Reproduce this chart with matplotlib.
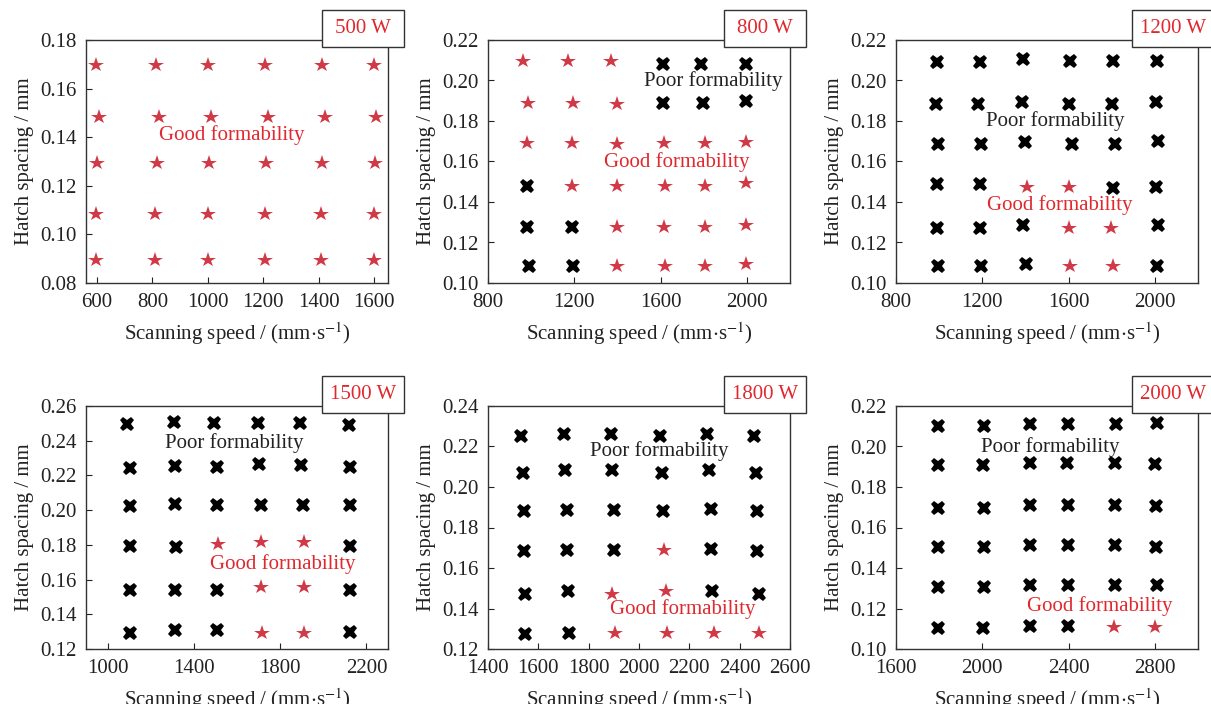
import matplotlib
matplotlib.use("Agg")
import matplotlib.pyplot as plt
from matplotlib.patches import Rectangle

plt.rcParams['font.family'] = ['Liberation Serif', 'DejaVu Serif']
plt.rcParams['mathtext.fontset'] = 'stix'

RED_STAR = '#d03a46'
RED_TEXT = '#e0282e'
DARK = '#222222'

# 500 W : all good
p500_speed = [596, 813, 1002, 1206, 1410, 1600,
              606, 822, 1012, 1217, 1421, 1608,
              598, 815, 1004, 1209, 1413, 1602,
              596, 810, 1001, 1206, 1409, 1599,
              596, 810, 1001, 1206, 1409, 1599]
p500_spacing = [0.1697] * 6 + [0.1484] * 6 + [0.1293] * 6 + [0.1084] * 6 + [0.0895] * 6
p500_good = [1] * 30

# 800 W
p800_speed = [961, 1172, 1372, 1610, 1788, 1995,
              985, 1195, 1400, 1610, 1795, 1995,
              980, 1188, 1396, 1616, 1804, 1995,
              980, 1191, 1396, 1619, 1808, 1998,
              980, 1188, 1396, 1616, 1804, 1995,
              988, 1195, 1396, 1619, 1808, 1998]
p800_spacing = [0.2096, 0.2096, 0.2096, 0.2080, 0.2080, 0.2080,
                0.1887, 0.1887, 0.1882, 0.1887, 0.1887, 0.1900,
                0.1690, 0.1690, 0.1685, 0.1690, 0.1690, 0.1697,
                0.1479, 0.1479, 0.1479, 0.1479, 0.1479, 0.1494,
                0.1278, 0.1278, 0.1278, 0.1278, 0.1278, 0.1286,
                0.1084, 0.1084, 0.1084, 0.1084, 0.1084, 0.1094]
p800_good = [1, 1, 1, 0, 0, 0,
             1, 1, 1, 0, 0, 0,
             1, 1, 1, 1, 1, 1,
             0, 1, 1, 1, 1, 1,
             0, 0, 1, 1, 1, 1,
             0, 0, 1, 1, 1, 1]

# 1200 W
p1200_speed = [990, 1189, 1391, 1608, 1806, 2010,
               987, 1181, 1386, 1604, 1801, 2003,
               997, 1195, 1399, 1615, 1814, 2016,
               990, 1189, 1409, 1604, 1806, 2003,
               990, 1189, 1391, 1601, 1795, 2013,
               993, 1192, 1402, 1608, 1806, 2010]
p1200_spacing = [0.2093, 0.2093, 0.2104, 0.2098, 0.2098, 0.2098,
                 0.1882, 0.1882, 0.1893, 0.1882, 0.1882, 0.1894,
                 0.1686, 0.1686, 0.1696, 0.1686, 0.1686, 0.1699,
                 0.1487, 0.1487, 0.1475, 0.1475, 0.1467, 0.1475,
                 0.1273, 0.1273, 0.1284, 0.1273, 0.1273, 0.1284,
                 0.1085, 0.1085, 0.1096, 0.1085, 0.1085, 0.1085]
p1200_good = [0, 0, 0, 0, 0, 0,
              0, 0, 0, 0, 0, 0,
              0, 0, 0, 0, 0, 0,
              0, 0, 1, 1, 0, 0,
              0, 0, 0, 1, 1, 0,
              0, 0, 0, 1, 1, 0]

# 1500 W
p1500_speed = [1092, 1306, 1495, 1699, 1894, 2117,
               1103, 1313, 1507, 1702, 1897, 2125,
               1103, 1313, 1507, 1710, 1906, 2125,
               1103, 1318, 1513, 1713, 1909, 2125,
               1103, 1313, 1507, 1713, 1909, 2125,
               1103, 1313, 1507, 1717, 1909, 2125]
p1500_spacing = [0.2496, 0.2510, 0.2504, 0.2504, 0.2500, 0.2490,
                 0.2245, 0.2253, 0.2249, 0.2264, 0.2258, 0.2249,
                 0.2021, 0.2036, 0.2027, 0.2027, 0.2027, 0.2027,
                 0.1792, 0.1788, 0.1804, 0.1817, 0.1817, 0.1796,
                 0.1540, 0.1540, 0.1540, 0.1555, 0.1555, 0.1540,
                 0.1295, 0.1312, 0.1307, 0.1291, 0.1291, 0.1299]
p1500_good = [0, 0, 0, 0, 0, 0,
              0, 0, 0, 0, 0, 0,
              0, 0, 0, 0, 0, 0,
              0, 0, 1, 1, 1, 0,
              0, 0, 0, 1, 1, 0,
              0, 0, 0, 1, 1, 0]

# 1800 W
p1800_speed = [1532, 1701, 1889, 2085, 2271, 2457,
               1539, 1705, 1893, 2092, 2277, 2463,
               1544, 1714, 1902, 2096, 2287, 2467,
               1544, 1714, 1900, 2099, 2287, 2470,
               1548, 1717, 1893, 2108, 2291, 2477,
               1548, 1721, 1904, 2112, 2297, 2477]
p1800_spacing = [0.2251, 0.2260, 0.2260, 0.2251, 0.2264, 0.2251,
                 0.2071, 0.2082, 0.2082, 0.2071, 0.2082, 0.2071,
                 0.1881, 0.1888, 0.1888, 0.1881, 0.1893, 0.1881,
                 0.1683, 0.1691, 0.1689, 0.1691, 0.1694, 0.1683,
                 0.1474, 0.1485, 0.1471, 0.1485, 0.1488, 0.1474,
                 0.1273, 0.1281, 0.1281, 0.1281, 0.1281, 0.1277]
p1800_good = [0, 0, 0, 0, 0, 0,
              0, 0, 0, 0, 0, 0,
              0, 0, 0, 0, 0, 0,
              0, 0, 0, 1, 0, 0,
              0, 0, 1, 1, 0, 0,
              0, 0, 1, 1, 1, 1]

# 2000 W
p2000_speed = [1797, 2006, 2223, 2397, 2619, 2809,
               1794, 2003, 2220, 2394, 2614, 2800,
               1797, 2006, 2223, 2397, 2614, 2805,
               1797, 2006, 2223, 2397, 2614, 2805,
               1797, 2006, 2223, 2397, 2614, 2809,
               1797, 2003, 2223, 2397, 2611, 2800]
p2000_spacing = [0.2101, 0.2101, 0.2110, 0.2110, 0.2110, 0.2117,
                 0.1907, 0.1907, 0.1919, 0.1919, 0.1919, 0.1912,
                 0.1698, 0.1698, 0.1710, 0.1710, 0.1710, 0.1705,
                 0.1502, 0.1502, 0.1514, 0.1514, 0.1514, 0.1506,
                 0.1304, 0.1304, 0.1316, 0.1316, 0.1316, 0.1316,
                 0.1103, 0.1103, 0.1116, 0.1116, 0.1108, 0.1111]
p2000_good = [0, 0, 0, 0, 0, 0,
              0, 0, 0, 0, 0, 0,
              0, 0, 0, 0, 0, 0,
              0, 0, 0, 0, 0, 0,
              0, 0, 0, 0, 0, 0,
              0, 0, 0, 0, 1, 1]

powers = ['500 W', '800 W', '1200 W', '1500 W', '1800 W', '2000 W']
xticks = [[600, 800, 1000, 1200, 1400, 1600],
          [800, 1200, 1600, 2000],
          [800, 1200, 1600, 2000],
          [1000, 1400, 1800, 2200],
          [1400, 1600, 1800, 2000, 2200, 2400, 2600],
          [1600, 2000, 2400, 2800]]
yticks = [[0.08, 0.10, 0.12, 0.14, 0.16, 0.18],
          [0.10, 0.12, 0.14, 0.16, 0.18, 0.20, 0.22],
          [0.10, 0.12, 0.14, 0.16, 0.18, 0.20, 0.22],
          [0.12, 0.14, 0.16, 0.18, 0.20, 0.22, 0.24, 0.26],
          [0.12, 0.14, 0.16, 0.18, 0.20, 0.22, 0.24],
          [0.10, 0.12, 0.14, 0.16, 0.18, 0.20, 0.22]]
xlims = [(560, 1650), (800, 2200), (800, 2200), (900, 2300), (1400, 2600), (1600, 3000)]

# label positions (data coords), None = no label
poor_pos = [None, (1523, 0.1998), (1215, 0.1802), (1264, 0.2384), (1807, 0.2178), (1994, 0.1998)]
good_pos = [(825, 0.141), (1338, 0.1596), (1223, 0.1385), (1476, 0.169), (1884, 0.1397), (2208, 0.1213)]

data = [(p500_speed, p500_spacing, p500_good),
        (p800_speed, p800_spacing, p800_good),
        (p1200_speed, p1200_spacing, p1200_good),
        (p1500_speed, p1500_spacing, p1500_good),
        (p1800_speed, p1800_spacing, p1800_good),
        (p2000_speed, p2000_spacing, p2000_good)]

W, H = 1211, 704
fig = plt.figure(figsize=(W / 100, H / 100), dpi=100)

lefts = [86, 488, 896]
tops = [40, 406]
aw, ah = 302, 243

for i, (speed, spacing, good) in enumerate(data):
    r, c = divmod(i, 3)
    ax = fig.add_axes([lefts[c] / W, (H - tops[r] - ah) / H, aw / W, ah / H])

    gx = [s for s, g in zip(speed, good) if g]
    gy = [h for h, g in zip(spacing, good) if g]
    bx = [s for s, g in zip(speed, good) if not g]
    by = [h for h, g in zip(spacing, good) if not g]
    ax.plot(bx, by, 'X', color='black', ms=10.5, mew=0, ls='none')
    ax.plot(gx, gy, '*', color=RED_STAR, ms=11.5, mew=0, ls='none')

    ax.set_xlim(*xlims[i])
    ax.set_ylim(yticks[i][0], yticks[i][-1])
    ax.set_xticks(xticks[i])
    ax.set_yticks(yticks[i])
    ax.set_yticklabels([f'{v:.2f}' for v in yticks[i]])
    ax.tick_params(direction='in', length=4, width=0.8, labelsize=15, colors=DARK, pad=7)
    for sp in ax.spines.values():
        sp.set_color('#333333')
        sp.set_linewidth(1.0)

    ax.set_xlabel(r'Scanning speed / (mm$\cdot$s$^{-1}$)', fontsize=15, color=DARK, labelpad=6)
    ax.set_ylabel('Hatch spacing / mm', fontsize=15, color=DARK, labelpad=4)

    if poor_pos[i] is not None:
        ax.text(poor_pos[i][0], poor_pos[i][1], 'Poor formability', fontsize=15,
                color=DARK, ha='left', va='center')
    ax.text(good_pos[i][0], good_pos[i][1], 'Good formability', fontsize=15,
            color=RED_TEXT, ha='left', va='center')

    # power label box straddling the top-right corner
    bx0, bw = (aw - 66) / aw, 82 / aw
    by0, bh = 1 - 7 / ah, 37 / ah
    ax.add_patch(Rectangle((bx0, by0), bw, bh, transform=ax.transAxes,
                           facecolor='white', edgecolor='#333333', lw=1.0,
                           clip_on=False, zorder=5))
    ax.text(bx0 + bw / 2, by0 + bh / 2, powers[i], transform=ax.transAxes,
            fontsize=15, color=RED_TEXT, ha='center', va='center', zorder=6)

fig.savefig('out.png', dpi=100)
